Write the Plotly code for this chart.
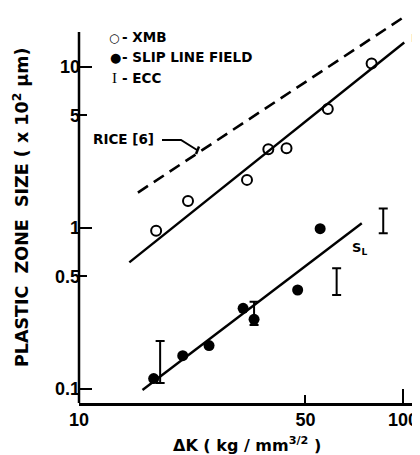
import plotly.graph_objects as go

# ---------------- data ----------------
xmb_dk = [17.3, 21.7, 33.0, 38.4, 43.7, 58.6, 80.0]
xmb_size = [0.96, 1.47, 1.99, 3.08, 3.13, 5.48, 10.5]

slip_dk = [17.0, 20.9, 25.2, 32.1, 34.7, 47.3, 55.5]
slip_size = [0.116, 0.161, 0.186, 0.317, 0.271, 0.412, 0.99]

ecc_dk = [17.8, 34.7, 62.4, 86.9]
ecc_low = [0.109, 0.250, 0.384, 0.927]
ecc_high = [0.199, 0.348, 0.562, 1.32]

rp_fit_dk = [14.3, 100.9]
rp_fit_size = [0.612, 14.2]

sl_fit_dk = [15.7, 74.6]
sl_fit_size = [0.0986, 1.07]

rice_dk = [15.2, 100.9]
rice_size = [1.66, 20.5]

x_tickvals = [10, 50, 100]
x_ticktext = ["10", "50", "100"]
y_tickvals = [0.1, 0.5, 1, 5, 10]
y_ticktext = ["0.1", "0.5", "1", "5", "10"]
y_major = [0.1, 1, 10]
x_major = [100]

# ---------------- layout geometry ----------------
# page body has an 8px margin, so the figure is offset by 8px in the page
OFF = 8
W, H = 420 - OFF, 455 - OFF
PL, PR, PT, PB = 79, 420, 10, 403          # plot area in page pixels
L, T = PL - OFF, PT - OFF
R = W - (PR - OFF)
B = H - (PB - OFF)
PW, PH = PR - PL, PB - PT


def pp(xp, yp):
    """page pixel -> paper coords (for decorations only)"""
    return (xp - PL) / PW, (PB - yp) / PH


BOLD = "DejaVu Sans"
TICKF = dict(family="Liberation Sans", size=18, color="black", weight="bold")

fig = go.Figure()

# fitted lines
fig.add_trace(go.Scatter(x=rice_dk, y=rice_size, mode="lines",
                         line=dict(color="black", width=2.6, dash="12px,7px"),
                         showlegend=False))
fig.add_trace(go.Scatter(x=rp_fit_dk, y=rp_fit_size, mode="lines",
                         line=dict(color="black", width=2.4), showlegend=False))
fig.add_trace(go.Scatter(x=sl_fit_dk, y=sl_fit_size, mode="lines",
                         line=dict(color="black", width=2.4), showlegend=False))

# ECC bars
fig.add_trace(go.Scatter(
    x=ecc_dk, y=ecc_low, mode="markers",
    marker=dict(size=1, color="rgba(0,0,0,0)"),
    error_y=dict(type="data", symmetric=False,
                 array=[h - l for h, l in zip(ecc_high, ecc_low)],
                 arrayminus=[0] * len(ecc_low),
                 color="black", thickness=2, width=4.5),
    showlegend=False))

# XMB open circles
fig.add_trace(go.Scatter(x=xmb_dk, y=xmb_size, mode="markers",
                         marker=dict(symbol="circle-open", size=10, color="black",
                                     line=dict(width=2, color="black")),
                         showlegend=False))
# slip line field filled circles
fig.add_trace(go.Scatter(x=slip_dk, y=slip_size, mode="markers",
                         marker=dict(symbol="circle", size=11, color="black"),
                         showlegend=False))

ymin = -1 - (403 - 389) / 161
ymax = 1 + (67 - PT) / 161
xmin = 1
xmax = 1 + PW / 324

fig.update_layout(
    width=W, height=H,
    margin=dict(l=L, r=R, t=T, b=B, pad=0, autoexpand=False),
    paper_bgcolor="white", plot_bgcolor="white",
    showlegend=False,
    xaxis=dict(type="log", range=[xmin, xmax], tickvals=x_tickvals, ticktext=x_ticktext,
               ticks="inside", ticklen=8, tickwidth=2, tickcolor="black",
               showline=True, linecolor="black", linewidth=2.5,
               showgrid=False, zeroline=False, tickfont=TICKF, ticklabelstandoff=-1),
    xaxis2=dict(type="log", range=[xmin, xmax], overlaying="x", anchor="y",
                tickvals=x_major, ticks="inside", ticklen=14, tickwidth=2,
                tickcolor="black", showticklabels=False, showgrid=False,
                zeroline=False, showline=False),
    yaxis=dict(type="log", range=[ymin, ymax], tickvals=y_tickvals, ticktext=y_ticktext,
               ticks="inside", ticklen=8, tickwidth=2, tickcolor="black",
               showline=False, showgrid=False, zeroline=False, tickfont=TICKF,
               ticklabelstandoff=-2),
    yaxis2=dict(type="log", range=[ymin, ymax], overlaying="y", anchor="x", side="left",
                tickvals=y_major, ticks="inside", ticklen=13, tickwidth=2,
                tickcolor="black", showticklabels=False, showgrid=False,
                zeroline=False, showline=False),
)
# dummy trace on the secondary axes so they render
fig.add_trace(go.Scatter(x=[20], y=[1], xaxis="x2", yaxis="y2", mode="markers",
                         marker=dict(size=1, color="rgba(0,0,0,0)"), showlegend=False,
                         hoverinfo="skip"))

shapes = []
# y-axis line (stops short of the top)
_, y1 = pp(79, 32)
shapes.append(dict(type="line", xref="paper", yref="paper", x0=0, x1=0, y0=0, y1=y1,
                   line=dict(color="black", width=2.5)))
# RICE leader line
pts = [pp(162, 140), pp(181, 140), pp(197, 150)]
path = "M {} {} L {} {} L {} {}".format(pts[0][0], pts[0][1], pts[1][0], pts[1][1],
                                       pts[2][0], pts[2][1])
shapes.append(dict(type="path", xref="paper", yref="paper", path=path,
                   line=dict(color="black", width=2)))
a, b = pp(199, 146.5)
c, d = pp(196, 154)
shapes.append(dict(type="line", xref="paper", yref="paper", x0=a, y0=b, x1=c, y1=d,
                   line=dict(color="black", width=2.5)))
fig.update_layout(shapes=shapes)

ann = []


def add_text(text, xp, yp, size, xanchor="left", family=BOLD, angle=0, weight="bold"):
    x, y = pp(xp, yp)
    ann.append(dict(text=text, x=x, y=y, xref="paper", yref="paper", showarrow=False,
                    xanchor=xanchor, yanchor="middle", textangle=angle,
                    font=dict(family=family, size=size, color="black", weight=weight)))


# legend
add_text("○", 114, 38, 12, xanchor="center")
add_text("●", 115, 57.5, 13, xanchor="center")
add_text("I", 114.5, 78, 15, xanchor="center", family="Liberation Serif", weight="normal")
add_text("- XMB", 120, 37.5, 13.5)
add_text("- SLIP LINE FIELD", 120, 57, 13.5)
add_text("- ECC", 120, 78, 13.5)
# labels
add_text("RICE [6]", 91, 139, 13.5)
add_text("r<sub>P</sub>", 409, 38, 14)
add_text("S<sub>L</sub>", 350, 249, 13)
# axis titles
add_text("PLASTIC  ZONE  SIZE ( x 10<sup>2</sup> μm)", 21, 208, 17.5,
         xanchor="center", angle=-90)
add_text("ΔK ( kg / mm<sup>3/2</sup> )", 247, 444, 16, xanchor="center")

fig.update_layout(annotations=ann)

fig.write_html("out.html")
